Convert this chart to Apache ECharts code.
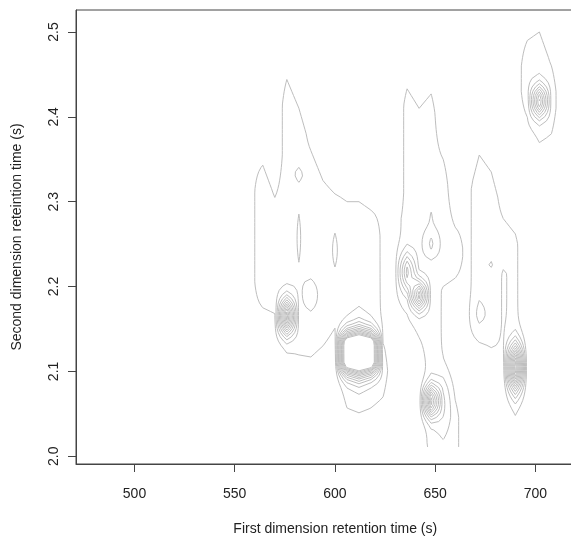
<!DOCTYPE html>
<html>
<head>
<meta charset="utf-8">
<script src="https://cdn.jsdelivr.net/npm/echarts@6/dist/echarts.min.js"></script>
<style>
  html, body { margin: 0; padding: 0; background: #fff; }
  #chart { width: 571px; height: 537px; }
</style>
</head>
<body>
<div id="chart"></div>
<script>
// Acquisition grid: first-dimension modulations (s) and second-dimension samples (s)
const rt1Start = 480, rt1End = 720, rt1Step = 6;
const rt2Start = 2.011, rt2End = 2.505, rt2Count = 100;

// Axis ticks
const xTicks = [500, 550, 600, 650, 700];
const yTicks = [2.0, 2.1, 2.2, 2.3, 2.4, 2.5];

// Contour levels (relative intensity) and detector saturation
const contourLevels = [1, 2, 3, 4, 5, 6, 7, 8, 9, 10, 11, 12];
const detectorCeiling = 16;

// Resolved peaks: retention times, widths (sigma) and heights
const peakRt1    = [576,   606,   612,    618,   612,   636,   642,   648,   648,   648,    654,   690,   702,    582,   582,   600,   588,   672,   678];
const peakRt2    = [2.165, 2.122, 2.122,  2.122, 2.12,  2.217, 2.19,  2.25,  2.285, 2.065,  2.06,  2.105, 2.419,  2.333, 2.257, 2.243, 2.19,  2.167, 2.226];
const peakWidth1 = [1.8,   1.8,   1.8,    1.8,   3.5,   1.8,   1.8,   1.8,   1.8,   2.2,    1.8,   1.8,   1.8,    1.5,   1.5,   1.5,   1.5,   1.5,   1.5];
const peakWidth2 = [0.015, 0.015, 0.0162, 0.015, 0.035, 0.016, 0.012, 0.012, 0.015, 0.0136, 0.025, 0.019, 0.0132, 0.008, 0.05,  0.03,  0.015, 0.014, 0.006];
const peakHeight = [10,    20,    22,     20,    1.2,   5,     8,     1.7,   0.5,   9,      1.5,   11.5,  7.5,    0.44,  0.47,  0.5,   0.9,   0.8,   0.5];

// Low-level bleed streaks along the second dimension, per modulation range
const streakRt1From = [558,  564,   570,  576,   582,  588,   594,  600,   606,  618,  624,  624,  630,  636,   642,   648,  654,  654,  654,  660,  660,   666,  672,   678,   684,  684,  690,   690,  696,  702,  708];
const streakRt1To   = [558,  564,   570,  576,   582,  588,   594,  600,   612,  618,  624,  624,  630,  636,   642,   648,  654,  654,  654,  660,  660,   666,  672,   678,   684,  684,  690,   690,  696,  702,  708];
const streakRt2Low  = [2.17, 2.175, 2.17, 2.13,  2.12, 2.117, 2.13, 2.152, 2.06, 2.06, 2.15, 2.07, 2.17, 2.17,  2.14,  1.99, 2.20, 1.99, 2.11, 2.21, 1.99,  2.14, 2.137, 2.128, 2.13, 2.22, 2.055, 2.40, 2.40, 2.37, 2.38];
const streakRt2High = [2.33, 2.343, 2.305,2.444, 2.41, 2.36,  2.325,2.307, 2.30, 2.29, 2.28, 2.13, 2.26, 2.433, 2.41,  2.427,2.35, 2.11, 2.20, 2.27, 2.066, 2.30, 2.355, 2.335, 2.22, 2.28, 2.262, 2.46, 2.49, 2.50, 2.46];
const streakHeight  = [0.7,  1.6,   1.6,  1.6,   1.6,  1.6,   1.6,  1.6,   1.6,  1.6,  0.8,  1.6,  0.6,  1.4,   1.6,   1.5,  1.6,  1.6,  0.9,  1.5,  1.4,   0.7,  1.6,   1.6,   0.9,  1.6,  1.25,  0.4,  1.6,  1.6,  1.6];
const streakRamp = 0.05;

function intensity(x, y) {
  let base = 0;
  for (let k = 0; k < streakHeight.length; k++) {
    if (x < streakRt1From[k] - 0.01 || x > streakRt1To[k] + 0.01) continue;
    const u = Math.min(y - streakRt2Low[k], streakRt2High[k] - y);
    const v = Math.max(0, Math.min(streakHeight[k], 1 + u / streakRamp));
    if (v > base) base = v;
  }
  let sum = 0;
  for (let k = 0; k < peakHeight.length; k++) {
    const dx = (x - peakRt1[k]) / peakWidth1[k];
    const dy = (y - peakRt2[k]) / peakWidth2[k];
    sum += peakHeight[k] * Math.exp(-0.5 * (dx * dx + dy * dy));
  }
  return Math.min(detectorCeiling, base + sum);
}

const xs = [];
for (let x = rt1Start; x <= rt1End + 1e-9; x += rt1Step) xs.push(x);
const ys = [];
for (let j = 0; j < rt2Count; j++) ys.push(rt2Start + j * (rt2End - rt2Start) / (rt2Count - 1));
const Z = ys.map(y => xs.map(x => intensity(x, y)));

// Marching squares with linear interpolation, chained into polylines
function traceLevel(L) {
  const nx = xs.length, ny = ys.length;
  const pos = new Map(), adj = new Map();
  const crossH = (i, j) => {
    const id = (j * nx + i) * 2;
    if (!pos.has(id)) {
      const a = Z[j][i], b = Z[j][i + 1], t = (L - a) / (b - a);
      pos.set(id, [xs[i] + t * (xs[i + 1] - xs[i]), ys[j]]);
    }
    return id;
  };
  const crossV = (i, j) => {
    const id = (j * nx + i) * 2 + 1;
    if (!pos.has(id)) {
      const a = Z[j][i], d = Z[j + 1][i], t = (L - a) / (d - a);
      pos.set(id, [xs[i], ys[j] + t * (ys[j + 1] - ys[j])]);
    }
    return id;
  };
  const link = (p, q) => {
    if (!adj.has(p)) adj.set(p, []);
    if (!adj.has(q)) adj.set(q, []);
    adj.get(p).push(q);
    adj.get(q).push(p);
  };
  for (let j = 0; j < ny - 1; j++) {
    for (let i = 0; i < nx - 1; i++) {
      const a = Z[j][i], b = Z[j][i + 1], c = Z[j + 1][i + 1], d = Z[j + 1][i];
      const sa = a >= L, sb = b >= L, sc = c >= L, sd = d >= L;
      const E = [
        sa !== sb ? crossH(i, j) : -1,
        sb !== sc ? crossV(i + 1, j) : -1,
        sd !== sc ? crossH(i, j + 1) : -1,
        sa !== sd ? crossV(i, j) : -1
      ];
      const hit = E.filter(v => v >= 0);
      if (hit.length === 2) link(hit[0], hit[1]);
      else if (hit.length === 4) {
        const center = (a + b + c + d) / 4 >= L;
        if (center === sa) { link(E[0], E[1]); link(E[2], E[3]); }
        else { link(E[3], E[0]); link(E[1], E[2]); }
      }
    }
  }
  const visited = new Set();
  const chains = [];
  const walk = (start) => {
    const chain = [start];
    visited.add(start);
    let cur = start;
    for (;;) {
      const nb = adj.get(cur);
      let nxt = -1;
      for (const n of nb) if (!visited.has(n)) { nxt = n; break; }
      if (nxt < 0) {
        if (chain.length > 2 && nb.includes(start)) chain.push(start);
        break;
      }
      visited.add(nxt);
      chain.push(nxt);
      cur = nxt;
    }
    chains.push(chain.map(id => pos.get(id)));
  };
  for (const [id, nb] of adj) if (nb.length === 1 && !visited.has(id)) walk(id);
  for (const [id] of adj) if (!visited.has(id)) walk(id);
  return chains;
}

const series = contourLevels.map(L => ({
  type: 'lines',
  coordinateSystem: 'cartesian2d',
  polyline: true,
  silent: true,
  animation: false,
  lineStyle: { color: '#bebebe', width: 1, opacity: 1 },
  data: traceLevel(L).map(c => ({ coords: c }))
}));

const textColor = '#222';
const axisColor = '#444';
const font = 'Liberation Sans, Arial, sans-serif';

const chart = echarts.init(document.getElementById('chart'), null, { renderer: 'canvas' });
chart.setOption({
  animation: false,
  backgroundColor: '#fff',
  grid: {
    left: 76, width: 518.5, top: 10, bottom: 73,
    outerBoundsMode: 'none',
    containLabel: false,
    show: true, borderColor: axisColor, borderWidth: 1, backgroundColor: 'transparent'
  },
  xAxis: {
    type: 'value',
    min: 470.81, max: 729.5,
    name: 'First dimension retention time (s)',
    nameLocation: 'middle', nameGap: 58,
    nameTextStyle: { fontFamily: font, fontSize: 14, color: textColor },
    axisLine: { show: true, lineStyle: { color: axisColor, width: 1 } },
    axisTick: { show: true, inside: false, length: 8, customValues: xTicks, lineStyle: { color: axisColor } },
    axisLabel: { customValues: xTicks, fontFamily: font, fontSize: 14, color: textColor, margin: 23 },
    splitLine: { show: false }
  },
  yAxis: {
    type: 'value',
    min: 1.9909, max: 2.5259,
    name: 'Second dimension reteintion time (s)',
    nameLocation: 'middle', nameGap: 52, nameRotate: 90,
    nameTextStyle: { fontFamily: font, fontSize: 14, color: textColor },
    axisLine: { show: true, lineStyle: { color: axisColor, width: 1 } },
    axisTick: { show: true, inside: false, length: 8, customValues: yTicks, lineStyle: { color: axisColor } },
    axisLabel: {
      customValues: yTicks, rotate: 90, fontFamily: font, fontSize: 14, color: textColor, margin: 15,
      formatter: v => v.toFixed(1)
    },
    splitLine: { show: false }
  },
  series: series
});
</script>
</body>
</html>
